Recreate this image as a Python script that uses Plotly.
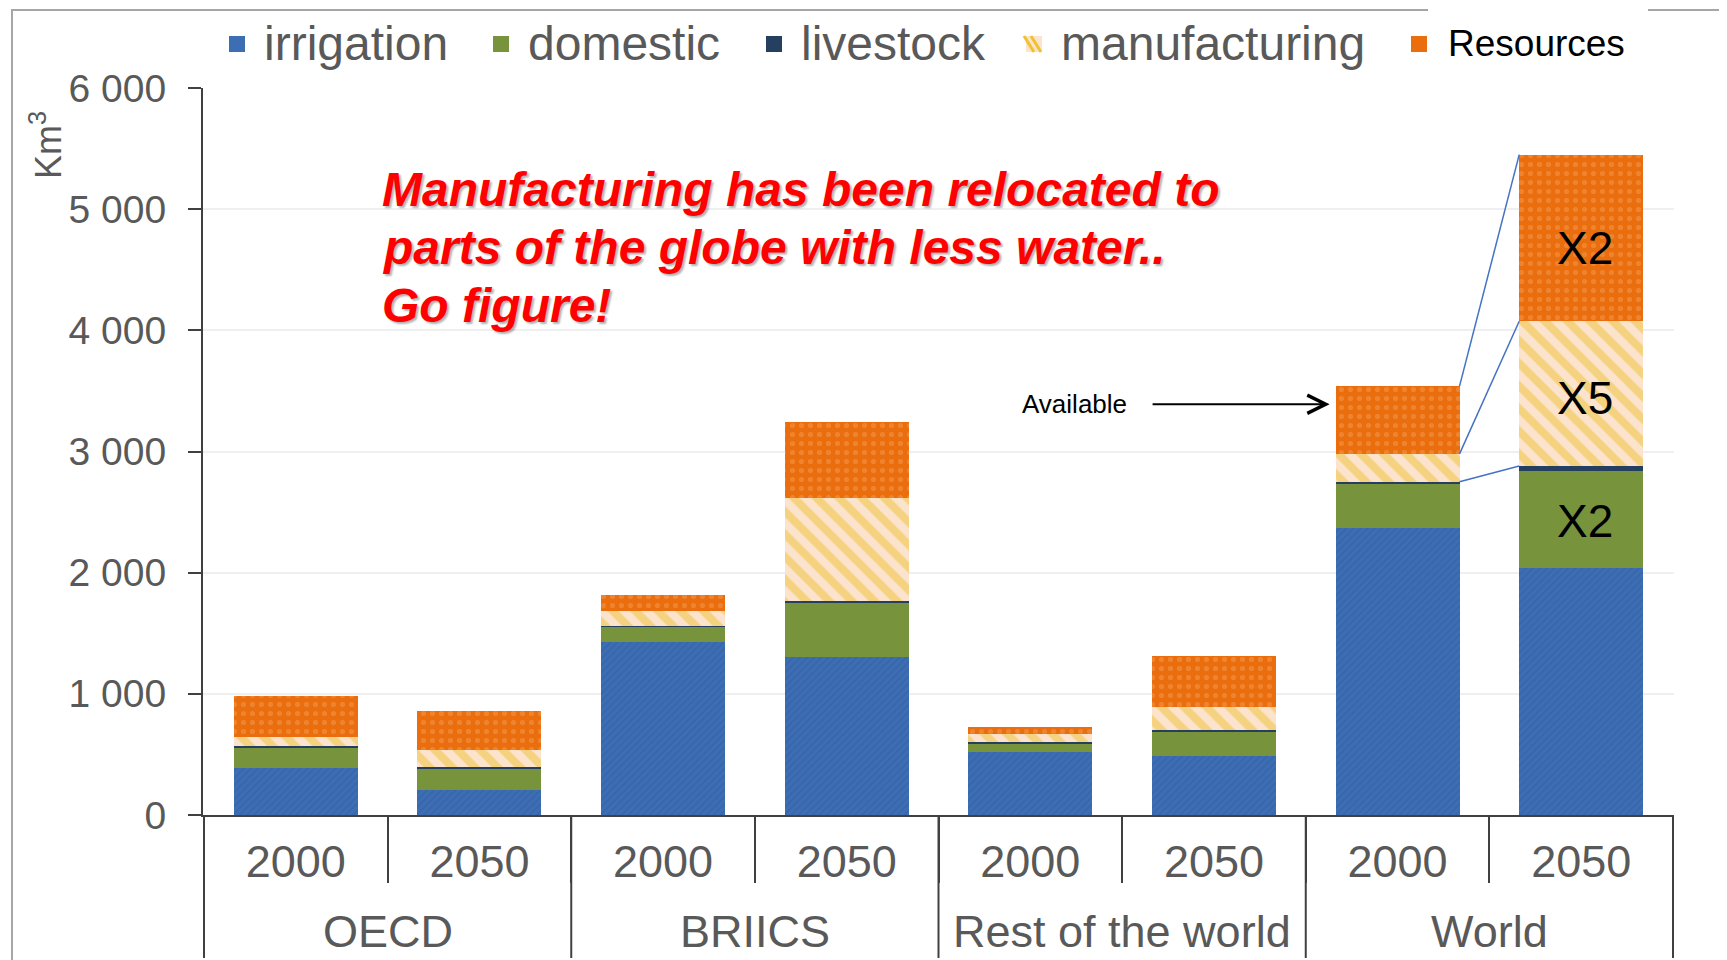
import plotly.graph_objects as go

# ---- data (km3 of water demand) ----
regions = ["OECD", "BRIICS", "Rest of the world", "World"]
years = ["2000", "2050"]
irrigation = [385, 210, 1425, 1300, 520, 490, 2370, 2040]
domestic = [175, 175, 130, 450, 70, 195, 365, 795]
livestock = [10, 12, 8, 20, 10, 15, 15, 45]
manufacturing = [75, 143, 120, 850, 65, 195, 230, 1195]
resources = [340, 320, 135, 620, 60, 415, 560, 1375]

y_ticks = [0, 1000, 2000, 3000, 4000, 5000, 6000]
y_tick_text = ["0", "1 000", "2 000", "3 000", "4 000", "5 000", "6 000"]
multipliers = ["X2", "X5", "X2"]          # domestic, manufacturing, resources
headline = ["Manufacturing has been relocated to",
            "parts of the globe with less water..",
            "Go figure!"]

# ---- geometry (screen px of the reference; page body adds an 8px offset) ----
OFF = 8
SW, SH = 1727, 960
X0, X1, Y0, Y1 = 203, 1674, 815, 88      # plot box on screen
W, H = SW - OFF, SH - OFF
L, R, T, B = X0 - OFF, SW - X1, Y1 - OFF, SH - Y0
BAR_W = 0.675


def px(x):
    return (x - X0) / (X1 - X0)


def py(y):
    return (Y0 - y) / (Y0 - Y1)


cats = [f"{r} {y}" for r in regions for y in years]
year_text = [y for _ in regions for y in years]

GRAY = "#595959"
AXIS = "#404040"
series = [
    ("irrigation", irrigation,
     dict(color="#3D6DB3", pattern=dict(shape="/", fgcolor="#2F5D9E",
                                        bgcolor="#3D6DB3", size=5, solidity=0.3))),
    ("domestic", domestic, dict(color="#77933C")),
    ("livestock", livestock, dict(color="#243F60")),
    ("manufacturing", manufacturing,
     dict(color="#FBE3CD", pattern=dict(shape="\\", fgcolor="#F0C232",
                                        bgcolor="#FBE3CD", size=16, solidity=0.5))),
    ("Resources", resources,
     dict(color="#EA6D0E", pattern=dict(shape=".", fgcolor="#F49C52",
                                        bgcolor="#EA6D0E", size=9, solidity=0.25))),
]

fig = go.Figure()
for name, vals, marker in series:
    fig.add_trace(go.Bar(x=cats, y=vals, name=name, width=BAR_W,
                         marker=dict(line=dict(width=0), **marker),
                         hovertemplate="%{x}: %{y}<extra>" + name + "</extra>"))

# ---- outer frame + legend ----
shapes = [dict(type="rect", xref="paper", yref="paper", layer="above",
               x0=px(12), x1=px(1723), y0=py(1100), y1=py(10),
               line=dict(color="#A6A6A6", width=2)),
          dict(type="rect", xref="paper", yref="paper", layer="above",
               x0=px(1428), x1=px(1648), y0=py(74), y1=py(4),
               fillcolor="white", line=dict(width=0))]
annotations = []

legend_sq = [229, 493, 766, 1026, 1411]
legend_col = ["#3D6DB3", "#77933C", "#243F60", "#FBE3CD", "#EA6D0E"]
LEG_Y = 44
for (name, _, _), sx, col in zip(series, legend_sq, legend_col):
    shapes.append(dict(type="rect", xref="paper", yref="paper", layer="above",
                       x0=px(sx), x1=px(sx + 16), y0=py(LEG_Y + 8), y1=py(LEG_Y - 8),
                       fillcolor=col, line=dict(width=0)))
    if name == "manufacturing":
        for d in (0, 7):
            shapes.append(dict(type="line", xref="paper", yref="paper", layer="above",
                               x0=px(sx + d - 2), x1=px(sx + d + 8),
                               y0=py(LEG_Y - 8), y1=py(LEG_Y + 8),
                               line=dict(color="#F0C232", width=3)))
    big = name == "Resources"
    annotations.append(dict(xref="paper", yref="paper", x=px(sx + (35 if big else 33)),
                            y=py(LEG_Y - 1), xanchor="left", yanchor="middle",
                            showarrow=False, text=name,
                            font=dict(size=37 if big else 48,
                                      color="black" if big else GRAY)))

# ---- axis title ----
annotations.append(dict(xref="paper", yref="paper", x=px(46), y=py(145),
                        xanchor="center", yanchor="middle",
                        text="Km<sup>3</sup>", textangle=-90, showarrow=False,
                        font=dict(size=36, color=GRAY)))

# ---- group labels and dividers under the year ticks ----
for i, reg in enumerate(regions):
    mid = i * len(years) + (len(years) - 1) / 2
    annotations.append(dict(xref="x", yref="paper", x=mid, y=py(931),
                            xanchor="center", yanchor="middle", showarrow=False,
                            text=reg, font=dict(size=45, color=GRAY)))
for i in range(len(regions) + 1):
    xb = i * len(years) - 0.5
    shapes.append(dict(type="line", xref="x", yref="paper", layer="above",
                       x0=xb, x1=xb, y0=0, y1=py(958),
                       line=dict(color=AXIS, width=2)))

# ---- headline ----
for i, line in enumerate(headline):
    annotations.append(dict(xref="paper", yref="paper", x=px(380), y=py(189 + 58 * i),
                            xanchor="left", yanchor="middle", showarrow=False, text=line,
                            font=dict(size=48, color="#FF0000", weight="bold",
                                      style="italic",
                                      shadow="2px 2px 2px rgba(0,0,0,0.3)")))

# ---- World 2000 -> 2050 connectors and multipliers ----
iw0, iw1 = 6, 7


def cum(idx, upto):
    return sum(s[1][idx] for s in series[:upto])


for upto in (3, 4, 5):
    shapes.append(dict(type="line", xref="x", yref="y", layer="above",
                       x0=iw0 + BAR_W / 2, x1=iw1 - BAR_W / 2,
                       y0=cum(iw0, upto), y1=cum(iw1, upto),
                       line=dict(color="#4472C4", width=1.5)))

for label, k, dy in zip(multipliers, (1, 3, 4), (-1, -4, -10)):
    lo, hi = cum(iw1, k), cum(iw1, k + 1)
    annotations.append(dict(xref="x", yref="y", x=iw1, y=(lo + hi) / 2,
                            xshift=4, yshift=dy, showarrow=False, text=label,
                            font=dict(size=46, color="black")))

annotations.append(dict(xref="x", yref="y", x=iw0 - BAR_W / 2, y=3390,
                        text="Available", showarrow=True, arrowhead=5, arrowsize=1.8,
                        arrowwidth=2, arrowcolor="black", ax=-261, ay=0,
                        startstandoff=24, standoff=6,
                        font=dict(size=26, color="black")))

fig.update_layout(
    barmode="stack", bargap=1 - BAR_W, width=W, height=H,
    margin=dict(l=L, r=R, t=T, b=B, autoexpand=False),
    paper_bgcolor="white", plot_bgcolor="white", showlegend=False,
    font=dict(family="Liberation Sans, Arial, sans-serif", color=GRAY),
    xaxis=dict(type="category", categoryorder="array", categoryarray=cats,
               tickmode="array", tickvals=cats, ticktext=year_text,
               tickson="boundaries", showline=True, linecolor=AXIS, linewidth=2,
               ticks="outside", ticklen=66, tickcolor=AXIS, tickwidth=2,
               tickfont=dict(size=45, color=GRAY), showgrid=False,
               ticklabelstandoff=6),
    yaxis=dict(range=[0, 6000], tickvals=y_ticks, ticktext=y_tick_text,
               ticks="outside", ticklen=13, tickwidth=2, tickcolor=AXIS,
               showline=True, linecolor=AXIS, linewidth=2, showgrid=True,
               gridcolor="#EFEFEF", gridwidth=2, zeroline=False,
               tickfont=dict(size=39, color=GRAY), ticklabelstandoff=14),
    shapes=shapes, annotations=annotations,
)

fig.write_html("out.html")
